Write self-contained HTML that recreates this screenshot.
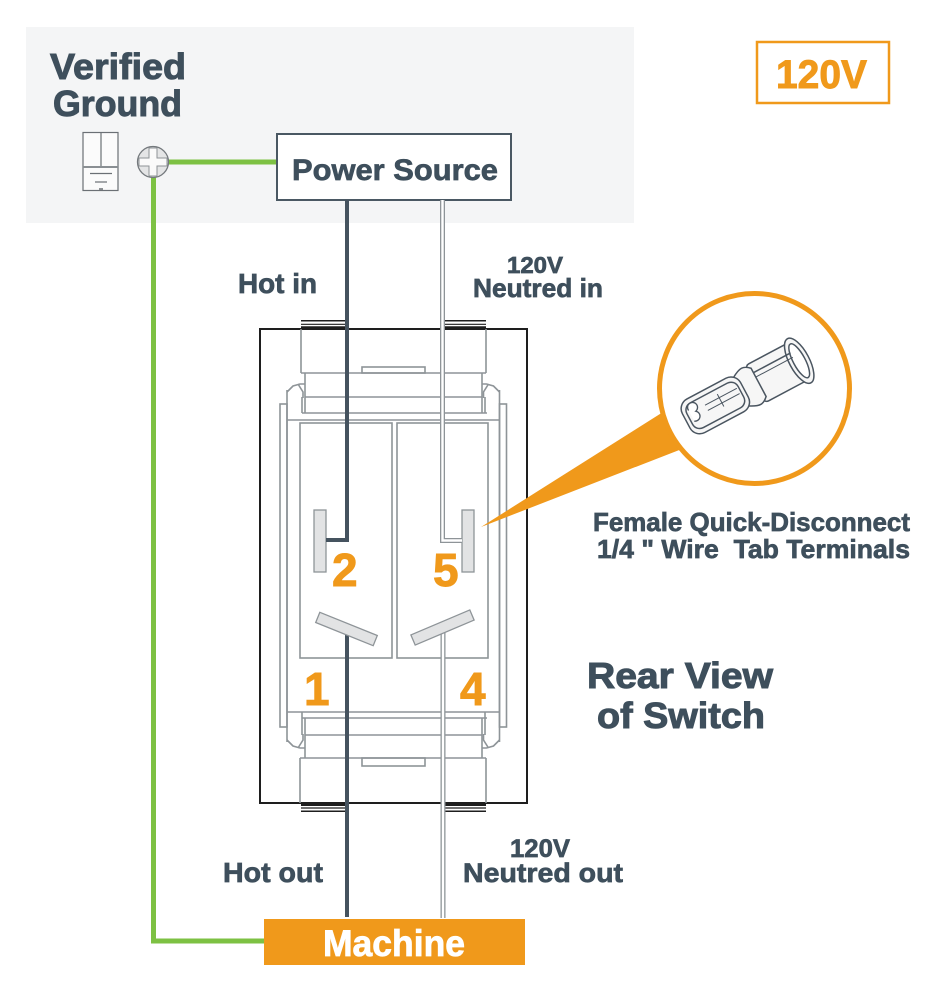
<!DOCTYPE html>
<html><head><meta charset="utf-8"><style>
html,body{margin:0;padding:0;background:#fff;}
svg{display:block}
text{font-family:"Liberation Sans",Arial,sans-serif;font-weight:bold;}
.d{fill:#3e4f5c;stroke:#3e4f5c;stroke-width:0.7;}
.dl{fill:#3e4f5c;stroke:#3e4f5c;stroke-width:1;}
.o{fill:#f0991b;stroke:#f0991b;stroke-width:0.9;}
</style></head><body>
<svg width="942" height="984" viewBox="0 0 942 984" xmlns="http://www.w3.org/2000/svg">
<rect width="942" height="984" fill="#fff"/>
<rect x="26" y="27" width="608" height="196" fill="#f4f5f6"/>

<!-- Verified Ground -->
<text x="50" y="79" font-size="36" class="dl" textLength="136" lengthAdjust="spacingAndGlyphs">Verified</text>
<text x="53" y="116" font-size="36" class="dl" textLength="129" lengthAdjust="spacingAndGlyphs">Ground</text>

<!-- fridge icon -->
<g stroke="#6b7075" fill="none" stroke-width="1.2">
<rect x="83" y="132.5" width="35" height="58" fill="#fbfbfb"/>
<line x1="101" y1="132.5" x2="101" y2="167"/>
<line x1="83" y1="167" x2="118" y2="167" stroke-width="2" stroke="#8a8f93"/>
<line x1="90" y1="173.5" x2="112" y2="173.5"/>
<line x1="95" y1="182" x2="107" y2="182"/>
<line x1="99" y1="189" x2="103" y2="189" stroke-width="1.5"/>
</g>

<!-- green ground wire -->
<polyline points="168,162 277,162" stroke="#7dc143" stroke-width="5" fill="none"/>
<polyline points="153.5,175 153.5,941 264,941" stroke="#7dc143" stroke-width="5" fill="none"/>

<!-- screw -->
<circle cx="153" cy="162" r="15.5" fill="#e4e5e6" stroke="#74797d" stroke-width="1.3"/>
<path d="M149,148 h8 v10 h10 v8 h-10 v10 h-8 v-10 h-10 v-8 h10 z" fill="#fafafa" stroke="#8e9397" stroke-width="1"/>

<!-- Power source -->
<rect x="277" y="134" width="234" height="66" fill="#fff" stroke="#4a5863" stroke-width="2"/>
<text x="292" y="180" font-size="30" class="d" textLength="206" lengthAdjust="spacingAndGlyphs">Power Source</text>

<!-- 120V box -->
<rect x="757" y="42" width="132" height="61" fill="#fff" stroke="#f0991b" stroke-width="2.5"/>
<text x="776" y="88" font-size="40" class="o" textLength="91" lengthAdjust="spacingAndGlyphs">120V</text>

<!-- labels -->
<text x="238" y="293" font-size="28" class="d" textLength="79" lengthAdjust="spacingAndGlyphs">Hot in</text>
<text x="507" y="273" font-size="23" class="d" textLength="56" lengthAdjust="spacingAndGlyphs">120V</text>
<text x="473" y="297" font-size="26" class="d" textLength="130" lengthAdjust="spacingAndGlyphs">Neutred in</text>
<text x="223" y="882" font-size="28" class="d" textLength="100" lengthAdjust="spacingAndGlyphs">Hot out</text>
<text x="510" y="857" font-size="25" class="d" textLength="60" lengthAdjust="spacingAndGlyphs">120V</text>
<text x="463" y="882" font-size="27" class="d" textLength="160" lengthAdjust="spacingAndGlyphs">Neutred out</text>

<!-- switch outer -->
<rect x="260" y="329" width="267" height="474" fill="#fff" stroke="#1e1e1e" stroke-width="2"/>
<!-- tabs -->
<g stroke="#1e1e1e">
<line x1="301" y1="320.8" x2="345" y2="320.8" stroke-width="1.5"/>
<line x1="301" y1="324.3" x2="345" y2="324.3" stroke-width="1.2"/>
<line x1="301" y1="327.3" x2="345" y2="327.3" stroke-width="2"/>
<line x1="444" y1="320.8" x2="486" y2="320.8" stroke-width="1.5"/>
<line x1="444" y1="324.3" x2="486" y2="324.3" stroke-width="1.2"/>
<line x1="444" y1="327.3" x2="486" y2="327.3" stroke-width="2"/>
<line x1="301" y1="805" x2="345" y2="805" stroke-width="2"/>
<line x1="301" y1="808" x2="345" y2="808" stroke-width="1.2"/>
<line x1="301" y1="811.3" x2="345" y2="811.3" stroke-width="1.5"/>
<line x1="444" y1="805" x2="486" y2="805" stroke-width="2"/>
<line x1="444" y1="808" x2="486" y2="808" stroke-width="1.2"/>
<line x1="444" y1="811.3" x2="486" y2="811.3" stroke-width="1.5"/>
</g>

<!-- inner structure -->
<g stroke="#8e9498" stroke-width="1.6" fill="none">
<line x1="301" y1="329" x2="301" y2="373"/>
<line x1="486" y1="329" x2="486" y2="373"/>
<line x1="301" y1="373" x2="486" y2="373"/>
<rect x="362" y="367" width="63" height="6"/>
<line x1="305" y1="373" x2="305" y2="413"/>
<line x1="482" y1="373" x2="482" y2="413"/>
<line x1="305" y1="397" x2="482" y2="397"/>
<line x1="302" y1="397" x2="302" y2="413"/>
<line x1="485" y1="397" x2="485" y2="413"/>
<line x1="302" y1="413" x2="487" y2="413"/>
<rect x="280" y="404" width="7" height="323" fill="#fff"/>
<rect x="499.5" y="404" width="7" height="323" fill="#fff"/>
<line x1="287" y1="390" x2="287" y2="742"/>
<line x1="499.5" y1="390" x2="499.5" y2="742"/>
<line x1="287" y1="420" x2="499.5" y2="420"/>
<line x1="287" y1="712" x2="499.5" y2="712"/>
<rect x="300" y="423" width="92" height="235"/>
<rect x="397" y="423" width="91" height="235"/>
<!-- chamfers -->
<polyline points="287,392 293,386 300,384 305,384"/>
<polyline points="298,384 303,392 303,398"/>
<polyline points="499.5,392 493.5,386 486.5,384 481.5,384"/>
<polyline points="488.5,384 483.5,392 483.5,398"/>
<polyline points="287,740 293,746 300,748 305,748"/>
<polyline points="298,748 303,740 303,734"/>
<polyline points="499.5,740 493.5,746 486.5,748 481.5,748"/>
<polyline points="488.5,748 483.5,740 483.5,734"/>
<!-- bottom block -->
<line x1="302" y1="718" x2="487" y2="718"/>
<line x1="302" y1="712" x2="302" y2="735"/>
<line x1="485" y1="712" x2="485" y2="735"/>
<line x1="305" y1="718" x2="305" y2="758"/>
<line x1="482" y1="718" x2="482" y2="758"/>
<line x1="305" y1="735" x2="482" y2="735"/>
<line x1="300" y1="758" x2="486" y2="758"/>
<rect x="362" y="758" width="63" height="8"/>
<line x1="300" y1="758" x2="300" y2="803"/>
<line x1="486" y1="758" x2="486" y2="803"/>
</g>

<!-- terminals -->
<rect x="314" y="510" width="12" height="62" fill="#e2e3e4" stroke="#8e9498" stroke-width="1.3"/>
<rect x="462" y="510" width="12" height="62" fill="#e2e3e4" stroke="#8e9498" stroke-width="1.3"/>

<!-- wires -->
<polyline points="347,200 347,540 326,540" stroke="#45535f" stroke-width="4" fill="none"/>
<line x1="347" y1="630" x2="347" y2="917" stroke="#45535f" stroke-width="4"/>
<polyline points="442.5,200 442.5,540.5 462,540.5" stroke="#8e9498" stroke-width="5" fill="none"/>
<polyline points="442.5,200 442.5,540.5 462,540.5" stroke="#fff" stroke-width="2.4" fill="none"/>
<line x1="443" y1="628" x2="443" y2="918" stroke="#8e9498" stroke-width="5"/>
<line x1="443" y1="628" x2="443" y2="918" stroke="#fff" stroke-width="2.4"/>

<!-- blades -->
<rect x="-31" y="-5.5" width="62" height="11" fill="#e2e3e4" stroke="#8e9498" stroke-width="1.3" transform="translate(346.5,629) rotate(22)"/>
<rect x="-32" y="-5.5" width="64" height="11" fill="#e2e3e4" stroke="#8e9498" stroke-width="1.3" transform="translate(442.5,627.5) rotate(-23)"/>

<!-- digits -->
<text x="332" y="586" font-size="46" class="o">2</text>
<text x="433" y="586" font-size="46" class="o">5</text>
<text x="304" y="705" font-size="46" class="o">1</text>
<text x="460" y="705" font-size="46" class="o">4</text>

<!-- callout -->
<polygon points="481,527 690,395 705,440" fill="#f0991b"/>
<circle cx="754.5" cy="388.5" r="95" fill="#fff" stroke="#f0991b" stroke-width="5"/>
<g transform="translate(748,388) rotate(-28)" stroke="#4a5560" stroke-width="1.5" fill="#f6f6f6">
<rect x="8" y="-21" width="48" height="42" rx="4"/>
<ellipse cx="58" cy="0" rx="10" ry="25"/>
<ellipse cx="58" cy="0" rx="6" ry="19" fill="#fff"/>
<line x1="12" y1="-11" x2="54" y2="-11"/>
<line x1="12" y1="-6" x2="54" y2="-6" stroke-width="1"/>
<path d="M-8,-16 C2,-22 6,-22 12,-16 L12,16 C6,22 2,22 -8,16 Z"/>
<rect x="-70" y="-19" width="66" height="38" rx="11"/>
<rect x="-66" y="-14" width="58" height="28" rx="8" fill="none"/>
<path d="M-63,-8 a5,5 0 1,1 6,4 a5,5 0 1,1 -6,8" fill="#fff" stroke-width="1.3"/>
<line x1="-46" y1="-5" x2="-10" y2="-5" stroke-width="1"/>
<line x1="-46" y1="1" x2="-10" y2="1" stroke-width="1"/>
<line x1="-30" y1="-9" x2="-30" y2="5" stroke-width="1"/>
</g>

<text x="593" y="531" font-size="26" class="d" textLength="317" lengthAdjust="spacingAndGlyphs">Female Quick-Disconnect</text>
<text x="597" y="558" font-size="26" class="d" textLength="313" lengthAdjust="spacingAndGlyphs" xml:space="preserve">1/4 " Wire  Tab Terminals</text>

<text x="587" y="688" font-size="36" class="dl" textLength="186" lengthAdjust="spacingAndGlyphs">Rear View</text>
<text x="597" y="728" font-size="36" class="dl" textLength="168" lengthAdjust="spacingAndGlyphs">of Switch</text>

<!-- Machine -->
<rect x="264" y="919" width="261" height="46" fill="#f0991b"/>
<text x="323" y="956" font-size="37" fill="#fff" stroke="#fff" stroke-width="0.8" textLength="142" lengthAdjust="spacingAndGlyphs">Machine</text>
</svg>
</body></html>
